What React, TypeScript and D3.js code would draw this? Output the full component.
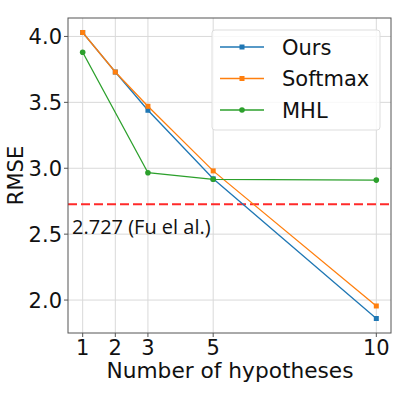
import React from 'react';
import * as d3 from 'd3';

const hyps = [1, 2, 3, 5, 10];
const ours = [4.03, 3.73, 3.44, 2.92, 1.86];
const softmax = [4.03, 3.73, 3.47, 2.98, 1.955];
const mhlX = [1, 3, 5, 10];
const mhl = [3.88, 2.966, 2.916, 2.91];
const yTicks = [2.0, 2.5, 3.0, 3.5, 4.0];
const baseline = 2.727;
const baselineLabel = '2.727 (Fu el al.)';

const colors = { ours: '#1f77b4', softmax: '#ff7f0e', mhl: '#2ca02c' };

const App = () => {
  const left = 68, right = 391, top = 18, bottom = 333;
  const x = d3.scaleLinear().domain([0.55, 10.45]).range([left, right]);
  const y = d3.scaleLinear().domain([1.75, 4.14]).range([bottom, top]);
  const line = d3.line<[number, number]>().x(d => x(d[0])).y(d => y(d[1]));
  const font = 'DejaVu Sans, sans-serif';

  const series = [
    { name: 'Ours', xs: hyps, ys: ours, color: colors.ours, marker: 'square' },
    { name: 'Softmax', xs: hyps, ys: softmax, color: colors.softmax, marker: 'square' },
    { name: 'MHL', xs: mhlX, ys: mhl, color: colors.mhl, marker: 'circle' },
  ];

  const marker = (m: string, cx: number, cy: number, c: string, key: any) =>
    m === 'square'
      ? <rect key={key} x={cx - 2.5} y={cy - 2.5} width={5} height={5} fill={c} />
      : <circle key={key} cx={cx} cy={cy} r={2.8} fill={c} />;

  return (
    <svg width={399} height={399} style={{ position: 'absolute', left: 0, top: 0 }}>
      <rect width={399} height={399} fill="white" />
      {/* grid */}
      {hyps.map(h => (
        <line key={'gx' + h} x1={x(h)} x2={x(h)} y1={top} y2={bottom} stroke="#d9d9d9" strokeWidth={1} />
      ))}
      {yTicks.map(t => (
        <line key={'gy' + t} x1={left} x2={right} y1={y(t)} y2={y(t)} stroke="#d9d9d9" strokeWidth={1} />
      ))}
      {/* baseline */}
      <line x1={left} x2={right} y1={y(baseline)} y2={y(baseline)} stroke="#ff2a2a" strokeWidth={1.8} strokeDasharray="9,4" />
      <text x={72} y={234} fontFamily="Open Sans, sans-serif" fontSize={20} fill="#111">{baselineLabel}</text>
      {/* series */}
      {series.map(s => (
        <g key={s.name}>
          <path d={line(s.xs.map((v, i) => [v, s.ys[i]] as [number, number])) || ''} fill="none" stroke={s.color} strokeWidth={1.3} />
          {s.xs.map((v, i) => marker(s.marker, x(v), y(s.ys[i]), s.color, i))}
        </g>
      ))}
      {/* spines */}
      <rect x={left} y={top} width={right - left} height={bottom - top} fill="none" stroke="#555" strokeWidth={1} />
      {/* y ticks */}
      {yTicks.map(t => (
        <g key={'yt' + t}>
          <line x1={left - 4} x2={left} y1={y(t)} y2={y(t)} stroke="#555" />
          <text x={left - 6} y={y(t)} dy="0.36em" textAnchor="end" fontFamily={font} fontSize={21} fill="#111">{t.toFixed(1)}</text>
        </g>
      ))}
      {/* x ticks */}
      {hyps.map(h => (
        <g key={'xt' + h}>
          <line x1={x(h)} x2={x(h)} y1={bottom} y2={bottom + 4} stroke="#555" />
          <text x={x(h)} y={355} textAnchor="middle" fontFamily={font} fontSize={21} fill="#111">{h}</text>
        </g>
      ))}
      <text x={(left + right) / 2 + 0.5} y={378} textAnchor="middle" fontFamily={font} fontSize={21.7} fill="#111">Number of hypotheses</text>
      <text transform={`translate(23,${(top + bottom) / 2}) rotate(-90)`} textAnchor="middle" fontFamily={font} fontSize={21} fill="#111">RMSE</text>
      {/* legend */}
      <rect x={212} y={30} width={168} height={100} rx={3} fill="white" fillOpacity={0.8} stroke="#dddddd" />
      {series.map((s, i) => {
        const ly = 47 + i * 31.5;
        return (
          <g key={'lg' + s.name}>
            <line x1={220} x2={264} y1={ly} y2={ly} stroke={s.color} strokeWidth={1.3} />
            {marker(s.marker, 242, ly, s.color, 'm')}
            <text x={282} y={ly} dy="0.36em" fontFamily={font} fontSize={21} fill="#111">{s.name}</text>
          </g>
        );
      })}
    </svg>
  );
};

export default App;
